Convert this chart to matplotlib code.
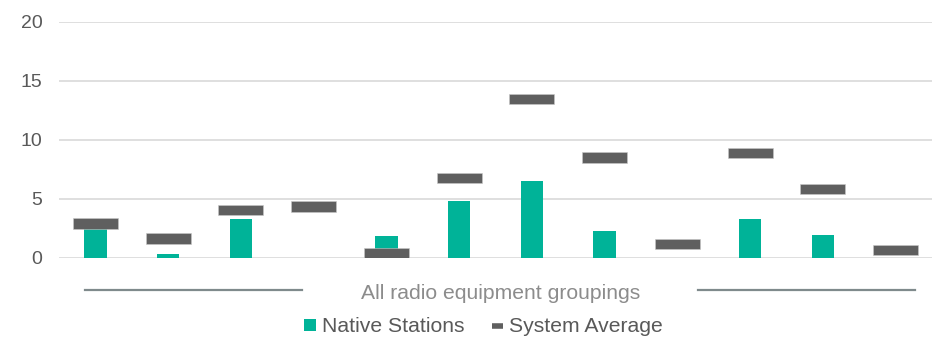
import matplotlib
matplotlib.use("Agg")
import matplotlib.pyplot as plt
from matplotlib.patches import Patch
from matplotlib.lines import Line2D
import numpy as np

plt.rcParams['font.family'] = ['Liberation Sans', 'DejaVu Sans']

# Twelve radio equipment groupings (unlabelled on the axis)
categories = list(range(1, 13))
native_stations = [2.6, 0.3, 3.3, 0.0, 1.85, 4.8, 6.5, 2.3, 0.0, 3.3, 1.9, 0.0]
system_average = [2.9, 1.63, 4.07, 4.35, 0.4, 6.77, 13.47, 8.49, 1.14, 8.87, 5.85, 0.68]
y_ticks = [0, 5, 10, 15, 20]
group_label = "All radio equipment groupings"

GREEN = "#00B398"
DARK = "#5F5F5F"
TEXT = "#595959"
GRID = "#D9D9D9"

fig = plt.figure(figsize=(9.39, 3.41), dpi=100)
ax = fig.add_axes([59 / 939, 1 - 257.7 / 341, (932 - 59) / 939, (257.7 - 22) / 341])

x = np.arange(len(categories))
ax.bar(x, native_stations, width=0.31, color=GREEN, zorder=2)

# System average drawn as short thick dashes centred on each value
dash_h = 0.88
ax.bar(x, [dash_h] * len(x), bottom=[v - dash_h / 2 for v in system_average],
       width=0.62, color=DARK, edgecolor="#C8C8C8", linewidth=0.4, zorder=3)

ax.set_xlim(-0.5, len(x) - 0.5)
ax.set_ylim(0, 20)
ax.set_yticks(y_ticks)
ax.set_yticklabels([str(t) for t in y_ticks], fontsize=14, color=TEXT)
ax.set_xticks([])
ax.tick_params(axis='y', length=0, pad=12)
for s in ax.spines.values():
    s.set_visible(False)
ax.yaxis.grid(True, color=GRID, linewidth=1.2, zorder=0)
ax.set_axisbelow(True)

# Group label with bracket lines on either side
for x0, x1 in [(85, 302), (698, 915)]:
    fig.add_artist(Line2D([x0 / 939, x1 / 939], [1 - 289.7 / 341] * 2,
                          color="#7F8A8C", linewidth=1.6))
fig.text(500.3 / 939, 1 - 299 / 341, group_label, ha='center', va='baseline',
         fontsize=15.2, color="#8C8C8C")

handles = [
    Patch(facecolor=GREEN, edgecolor='none', label="Native Stations"),
    Line2D([], [], color=DARK, linewidth=4, solid_capstyle='butt', label="System Average"),
]
fig.legend(handles=handles, loc='center', bbox_to_anchor=(483.5 / 939, 1 - 327 / 341),
           ncol=2, frameon=False, fontsize=15.2, labelcolor=TEXT,
           handlelength=0.55, handleheight=0.55, handletextpad=0.28, columnspacing=1.3,
           borderpad=0, borderaxespad=0)

fig.savefig("out.png", dpi=100)
